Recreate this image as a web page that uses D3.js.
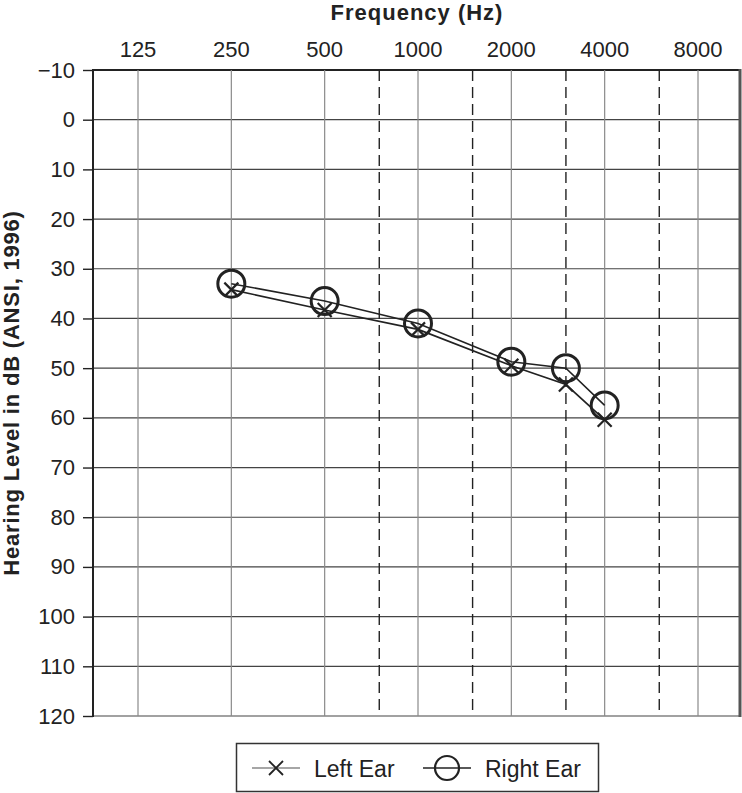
<!DOCTYPE html>
<html>
<head>
<meta charset="utf-8">
<script src="https://cdn.jsdelivr.net/npm/d3@7"></script>
<style>
  body { margin: 0; background: #fff; }
  svg { display: block; font-family: "Liberation Sans", Arial, sans-serif; }
</style>
</head>
<body>
<svg id="chart" width="742" height="793"></svg>
<script>
// audiogram values
const octaveFreqs = [125, 250, 500, 1000, 2000, 4000, 8000]
const halfFreqs = [750, 1500, 3000, 6000]
const levelTicks = [-10, 0, 10, 20, 30, 40, 50, 60, 70, 80, 90, 100, 110, 120]

const testFreqs = [250, 500, 1000, 2000, 3000, 4000]
const rightEar = [33, 36.5, 41, 48.7, 50, 57.5]
const leftEar = [34.2, 38.3, 42.2, 49.5, 53.3, 60.4]

const svg = d3.select("#chart")
const width = 742, height = 793
const plot = {left: 93, right: 740, top: 70, bottom: 716}

const x = d3.scaleLog()
  .base(2)
  .domain([125, 8000])
  .range([138, 698])

const y = d3.scaleLinear()
  .domain([-10, 120])
  .range([plot.top, plot.bottom])

const ink = "#222"

// horizontal grid
svg.append("g")
  .selectAll("line")
  .data(levelTicks)
  .enter().append("line")
    .attr("x1", plot.left).attr("x2", plot.right)
    .attr("y1", d => y(d)).attr("y2", d => y(d))
    .attr("stroke", d => d === -10 ? ink : "#444")
    .attr("stroke-width", d => d === -10 ? 2 : 1.2)

// octave lines
svg.append("g")
  .selectAll("line")
  .data(octaveFreqs)
  .enter().append("line")
    .attr("x1", d => x(d)).attr("x2", d => x(d))
    .attr("y1", y(-10)).attr("y2", y(120))
    .attr("stroke", "#8a8a8a")
    .attr("stroke-width", 1.2)

// half-octave dashed lines
svg.append("g")
  .selectAll("line")
  .data(halfFreqs)
  .enter().append("line")
    .attr("x1", d => x(d)).attr("x2", d => x(d))
    .attr("y1", y(-10)).attr("y2", y(120))
    .attr("stroke", ink)
    .attr("stroke-width", 1.4)
    .attr("stroke-dasharray", "11,6")

// frame
svg.append("line")
  .attr("x1", plot.left).attr("x2", plot.left)
  .attr("y1", y(-10) - 1).attr("y2", y(120) + 1)
  .attr("stroke", ink).attr("stroke-width", 2)
svg.append("line")
  .attr("x1", plot.right).attr("x2", plot.right)
  .attr("y1", y(-10) - 1).attr("y2", y(120) + 1)
  .attr("stroke", "#555").attr("stroke-width", 3)

// y axis
const yAxis = svg.append("g")
  .attr("transform", `translate(${plot.left},0)`)
  .call(d3.axisLeft(y).tickValues(levelTicks).tickSize(10).tickPadding(8)
    .tickFormat(d => d < 0 ? "\u2212" + Math.abs(d) : d))
yAxis.select(".domain").remove()
yAxis.selectAll(".tick line").attr("stroke", ink).attr("stroke-width", 1.4)
yAxis.selectAll(".tick text")
  .attr("font-size", 22).attr("fill", ink).attr("font-family", "Liberation Sans, Arial, sans-serif")

// top frequency labels
svg.append("g")
  .selectAll("text")
  .data(octaveFreqs)
  .enter().append("text")
    .attr("x", d => x(d))
    .attr("y", 57)
    .attr("text-anchor", "middle")
    .attr("font-size", 22)
    .attr("fill", ink)
    .text(d => d)

svg.append("text")
  .attr("x", 417)
  .attr("y", 20)
  .attr("text-anchor", "middle")
  .attr("font-size", 22)
  .attr("font-weight", "bold")
  .attr("letter-spacing", 1)
  .attr("fill", ink)
  .text("Frequency (Hz)")

svg.append("text")
  .attr("transform", `translate(19,${(y(-10) + y(120)) / 2}) rotate(-90)`)
  .attr("text-anchor", "middle")
  .attr("font-size", 22)
  .attr("font-weight", "bold")
  .attr("letter-spacing", 0.8)
  .attr("fill", ink)
  .text("Hearing Level in dB (ANSI, 1996)")

// series
const line = d3.line()
  .x(d => x(d[0]))
  .y(d => y(d[1]))

const leftData = d3.zip(testFreqs, leftEar)
const rightData = d3.zip(testFreqs, rightEar)

svg.append("path")
  .attr("d", line(leftData))
  .attr("fill", "none").attr("stroke", ink).attr("stroke-width", 1.6)
svg.append("path")
  .attr("d", line(rightData))
  .attr("fill", "none").attr("stroke", ink).attr("stroke-width", 1.6)

const xMark = (sel, s, w) => {
  sel.append("line").attr("x1", -s).attr("y1", -s).attr("x2", s).attr("y2", s)
    .attr("stroke", ink).attr("stroke-width", w)
  sel.append("line").attr("x1", -s).attr("y1", s).attr("x2", s).attr("y2", -s)
    .attr("stroke", ink).attr("stroke-width", w)
}

svg.append("g")
  .selectAll("g")
  .data(leftData)
  .enter().append("g")
    .attr("transform", d => `translate(${x(d[0])},${y(d[1])})`)
    .each(function() { xMark(d3.select(this), 7, 2.2) })

svg.append("g")
  .selectAll("circle")
  .data(rightData)
  .enter().append("circle")
    .attr("cx", d => x(d[0]))
    .attr("cy", d => y(d[1]))
    .attr("r", 13.5)
    .attr("fill", "none")
    .attr("stroke", ink)
    .attr("stroke-width", 3)

// legend
const legend = svg.append("g")
legend.append("rect")
  .attr("x", 236.5).attr("y", 743.5).attr("width", 362).attr("height", 48)
  .attr("fill", "#fff").attr("stroke", "#333").attr("stroke-width", 1.5)

legend.append("line")
  .attr("x1", 252).attr("x2", 300).attr("y1", 768).attr("y2", 768)
  .attr("stroke", "#888").attr("stroke-width", 1.3)
legend.append("g")
  .attr("transform", "translate(276,768)")
  .call(g => xMark(g, 7, 1.8))
legend.append("text")
  .attr("x", 314).attr("y", 777)
  .attr("font-size", 23).attr("fill", ink)
  .text("Left Ear")

legend.append("line")
  .attr("x1", 423).attr("x2", 471).attr("y1", 768).attr("y2", 768)
  .attr("stroke", ink).attr("stroke-width", 1.5)
legend.append("circle")
  .attr("cx", 447).attr("cy", 768).attr("r", 12)
  .attr("fill", "none").attr("stroke", ink).attr("stroke-width", 2.2)
legend.append("text")
  .attr("x", 485).attr("y", 777)
  .attr("font-size", 23).attr("fill", ink)
  .text("Right Ear")
</script>
</body>
</html>
